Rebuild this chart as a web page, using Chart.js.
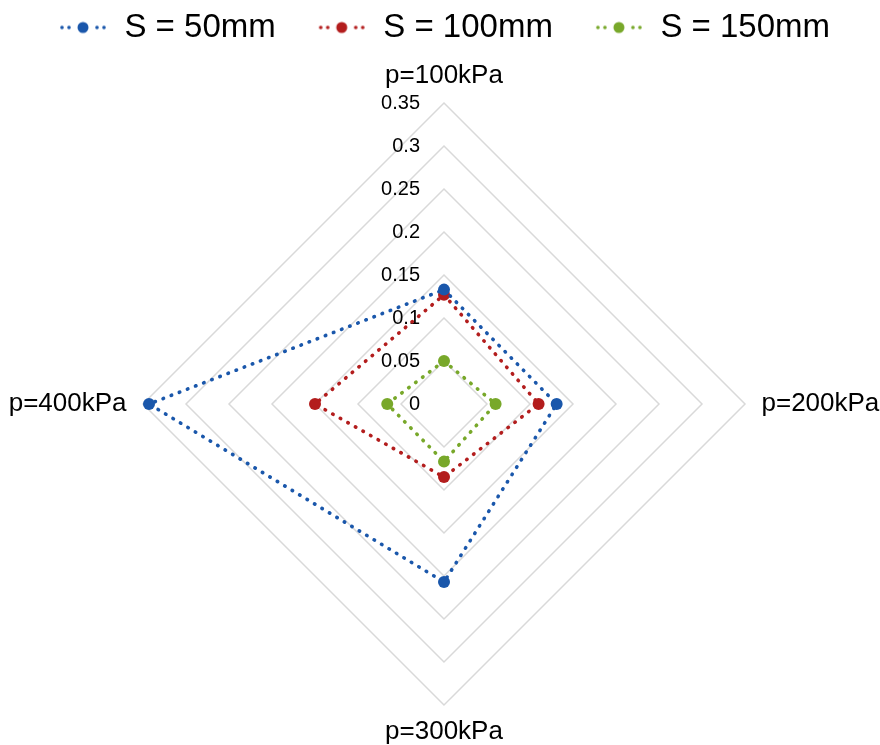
<!DOCTYPE html>
<html>
<head>
<meta charset="utf-8">
<script src="https://cdn.jsdelivr.net/npm/chart.js@4/dist/chart.umd.min.js"></script>
<style>
  html, body { margin: 0; padding: 0; background: #ffffff; }
  #wrap { width: 880px; height: 745px; }
</style>
</head>
<body>
<div id="wrap"><canvas id="c" width="880" height="745"></canvas></div>
<script>
// ---- data ----
const categories = ['p=100kPa', 'p=200kPa', 'p=300kPa', 'p=400kPa'];
const seriesNames = ['S = 50mm', 'S = 100mm', 'S = 150mm'];
const s50  = [0.133, 0.131, 0.207, 0.343];
const s100 = [0.127, 0.110, 0.085, 0.150];
const s150 = [0.050, 0.060, 0.067, 0.066];
const tickValues = [0, 0.05, 0.1, 0.15, 0.2, 0.25, 0.3, 0.35];
const tickLabels = ['0', '0.05', '0.1', '0.15', '0.2', '0.25', '0.3', '0.35'];

const colors = ['#1a57ab', '#b31d1d', '#78a82a'];
const FONT = "'Liberation Sans', Arial, sans-serif";

function makeIcon(color) {
  const c = document.createElement('canvas');
  c.width = 50; c.height = 14;
  const g = c.getContext('2d');
  g.fillStyle = color;
  [4, 11, 39, 46].forEach(x => { g.beginPath(); g.arc(x, 7, 1.8, 0, Math.PI * 2); g.fill(); });
  g.beginPath(); g.arc(25, 7, 5.5, 0, Math.PI * 2); g.fill();
  return c;
}
const icons = colors.map(makeIcon);

const legendTweak = {
  id: 'legendTweak',
  afterInit(chart) {
    const lg = chart.legend;
    if (!lg) return;
    const origFit = lg.fit;
    lg.fit = function () { origFit.call(this); this.height = 63; };
    const origDraw = lg._draw;
    lg._draw = function () {
      const ctx = this.ctx;
      ctx.save();
      ctx.translate(0, -30);
      origDraw.call(this);
      ctx.restore();
    };
  }
};

const tickPlugin = {
  id: 'tickLabels',
  beforeDatasetsDraw(chart) {
    const r = chart.scales.r;
    const ctx = chart.ctx;
    ctx.save();
    ctx.font = '20px ' + FONT;
    ctx.fillStyle = '#000000';
    ctx.textAlign = 'right';
    ctx.textBaseline = 'middle';
    tickValues.forEach((v, i) => {
      const d = r.getDistanceFromCenterForValue(v);
      ctx.fillText(tickLabels[i], r.xCenter - 24, r.yCenter - d);
    });
    ctx.restore();
  }
};

const seriesData = [s50, s100, s150];
const datasets = seriesData.map((d, i) => ({
  label: seriesNames[i],
  data: d,
  borderColor: colors[i],
  backgroundColor: colors[i],
  borderWidth: 3.6,
  borderDash: [0.5, 8.2],
  borderCapStyle: 'round',
  fill: false,
  tension: 0,
  pointRadius: 6,
  pointBorderWidth: 0,
  pointBackgroundColor: colors[i],
  pointHoverRadius: 6
}));

new Chart(document.getElementById('c'), {
  type: 'radar',
  data: { labels: categories, datasets },
  plugins: [legendTweak, tickPlugin],
  options: {
    responsive: false,
    animation: false,
    layout: { padding: { left: 8, right: 0, top: 0, bottom: 0 } },
    plugins: {
      tooltip: { enabled: false },
      legend: {
        position: 'top',
        labels: {
          usePointStyle: true,
          pointStyleWidth: 50,
          padding: 41,
          color: '#000000',
          font: { family: FONT, size: 33 },
          generateLabels(chart) {
            const items = Chart.defaults.plugins.legend.labels.generateLabels(chart);
            return items.map((it, i) => Object.assign(it, { pointStyle: icons[i] }));
          }
        }
      }
    },
    scales: {
      r: {
        min: 0,
        max: 0.35,
        ticks: { stepSize: 0.05, display: false },
        angleLines: { display: false },
        grid: { circular: false, color: '#d9d9d9', lineWidth: 1.5 },
        pointLabels: {
          color: '#000000',
          font: { family: FONT, size: 26, lineHeight: '25px' },
          padding: (ctx) => [15, 16.5, 14, 16.5][ctx.index]
        }
      }
    }
  }
});
</script>
</body>
</html>
